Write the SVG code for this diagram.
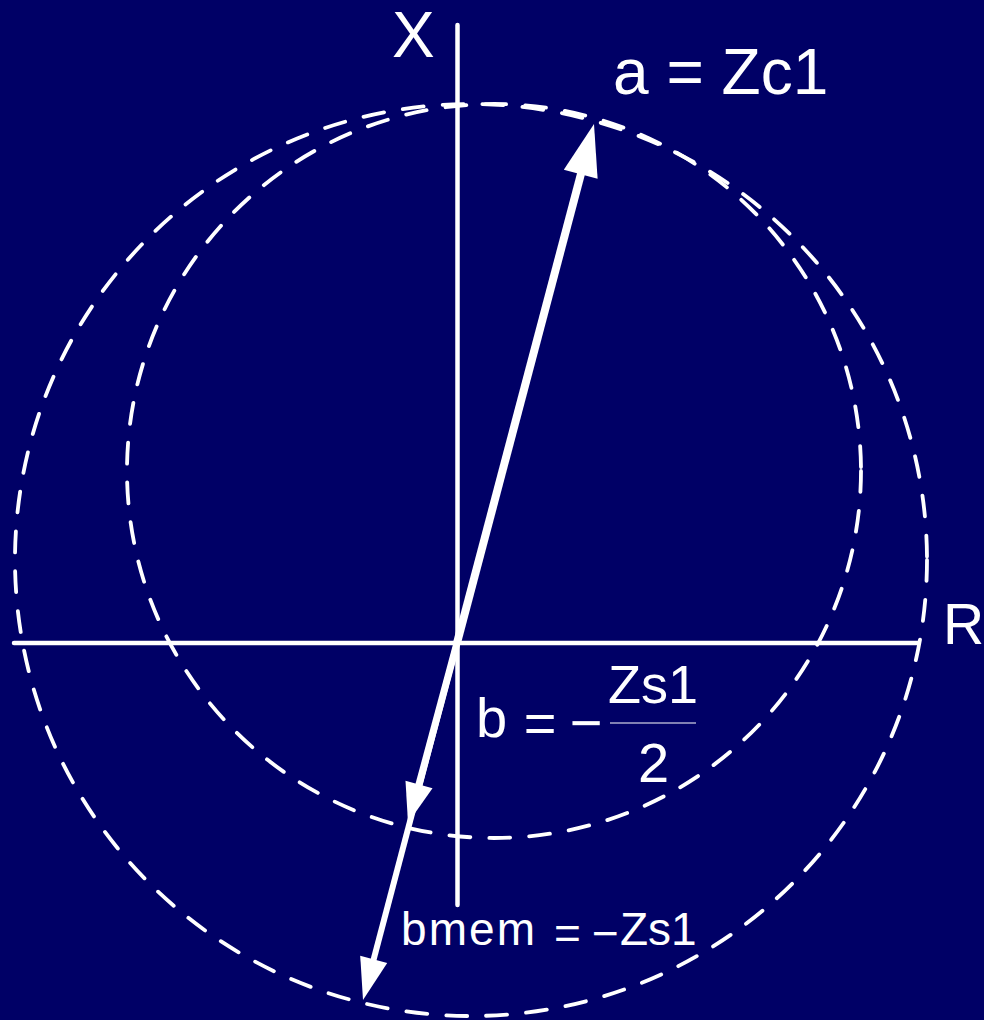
<svg xmlns="http://www.w3.org/2000/svg" width="984" height="1020" viewBox="0 0 984 1020">
<style>
.bg{fill:#000066}
.axis{stroke:#ffffff;stroke-width:4.5;stroke-linecap:round;fill:none}
.dash{stroke:#ffffff;stroke-width:3.8;stroke-linecap:round;fill:none;stroke-dasharray:21 19}
.shaft{stroke:#ffffff;fill:none;stroke-linecap:butt}
.head{fill:#ffffff;stroke:none}
.t{font-family:"Liberation Sans",Arial,sans-serif;fill:#ffffff}
</style>
<rect class="bg" x="0" y="0" width="984" height="1020"/>
<g id="circle-large"><circle class="dash" cx="471" cy="560" r="456"/></g>
<g id="circle-small"><circle class="dash" cx="494" cy="471" r="367"/></g>
<g id="axis-x"><line class="axis" x1="457.5" y1="25" x2="457.5" y2="905"/></g>
<g id="axis-r"><line class="axis" x1="14" y1="643" x2="918" y2="643"/></g>
<g id="connectors">
  <line class="shaft" stroke-width="8" x1="457" y1="643" x2="582" y2="170"/>
  <polygon class="head" points="594,124 563.8,169.8 597.6,178.8"/>
  <line class="shaft" stroke-width="7" x1="457" y1="643" x2="418" y2="788"/>
  <polygon class="head" points="408,823 405.5,780.8 432.5,788.2"/>
  <line class="shaft" stroke-width="6" x1="457" y1="643" x2="372.7" y2="963"/>
  <polygon class="head" points="363,1000 360.2,955.8 387.2,963"/>
</g>
<g id="label-X"><text class="t" x="392" y="57" font-size="64">X</text></g>
<g id="label-R"><text class="t" x="943" y="644" font-size="57">R</text></g>
<g id="label-a"><text class="t" x="613" y="94" font-size="64">a = Zc1</text></g>
<g id="label-b">
  <text class="t" x="476" y="737" font-size="56">b</text>
  <text class="t" x="540" y="742" font-size="56" text-anchor="middle">=</text>
  <text class="t" x="586" y="742" font-size="56" text-anchor="middle">−</text>
  <text class="t" x="653" y="703" font-size="54" text-anchor="middle">Zs1</text>
  <line x1="610" y1="723" x2="696" y2="723" stroke="#ffffff" stroke-width="1.2"/>
  <text class="t" x="653.5" y="782" font-size="56" text-anchor="middle">2</text>
</g>
<g id="label-bmem">
  <text class="t" x="401" y="945" font-size="46" textLength="134" lengthAdjust="spacing">bmem</text>
  <text class="t" x="567.5" y="949" font-size="46" text-anchor="middle">=</text>
  <text class="t" x="605.5" y="949" font-size="46" text-anchor="middle">−</text>
  <text class="t" x="620" y="945" font-size="46">Zs1</text>
</g>
</svg>
